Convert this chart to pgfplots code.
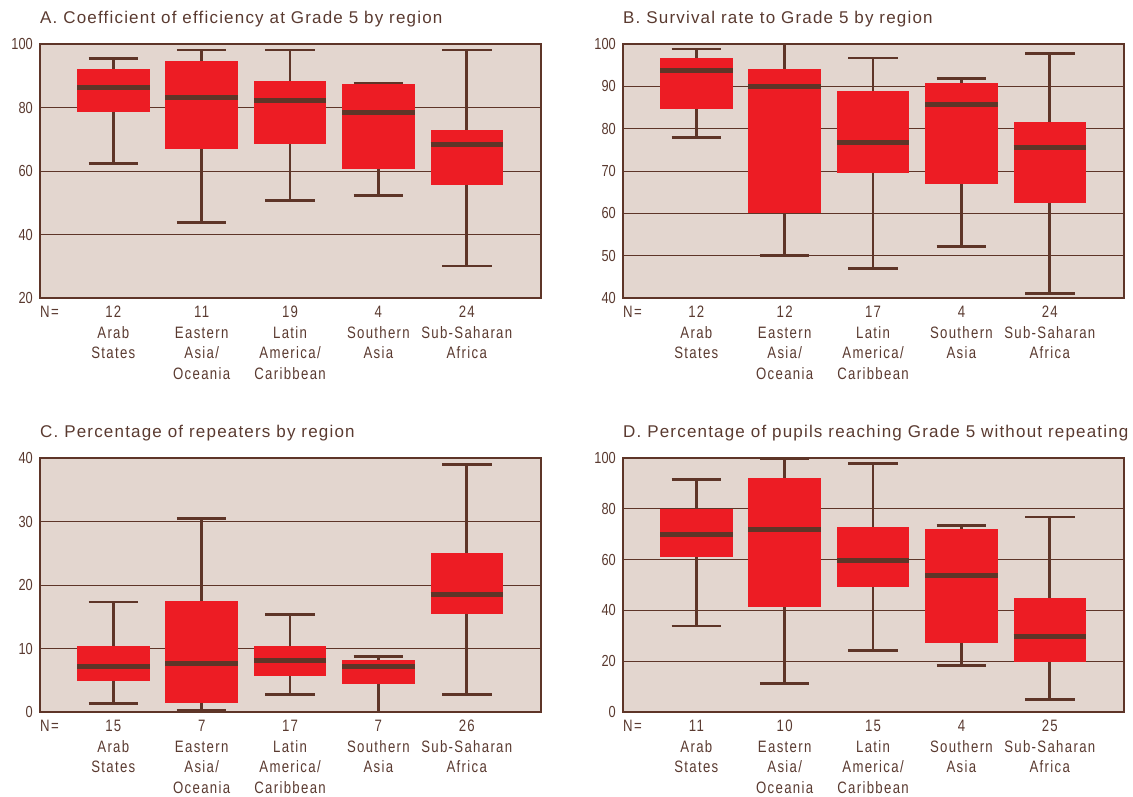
\documentclass[border=0pt]{standalone}
\usepackage{fontspec}
\usepackage{pgfplots}
\pgfplotsset{compat=1.18}
\usepgfplotslibrary{statistics}
\setmainfont{Liberation Sans}
\newfontfamily\titlefont[LetterSpace=7]{Liberation Sans}
\newfontfamily\labfont[FakeStretch=0.8,LetterSpace=8]{Liberation Sans}
\newfontfamily\numfont[FakeStretch=0.8]{Liberation Sans}

\definecolor{bg}{HTML}{E3D6CF}
\definecolor{boxred}{HTML}{ED1C24}
\definecolor{dkbrown}{HTML}{5E3528}
\definecolor{txt}{HTML}{5A3A30}

\pgfplotsset{
  regionbox/.style={
    width=501pt, height=254pt, scale only axis,
    anchor=south west,
    xmin=-0.83, xmax=4.84, xtick={0,1,2,3,4},
    major tick length=0pt,
    axis background/.style={fill=bg},
    axis line style={dkbrown, line width=1.2pt},
    ymajorgrids, major grid style={dkbrown, line width=0.9pt},
    /pgf/number format/assume math mode=true,
    yticklabel style={anchor=east, inner sep=0pt, xshift=-7pt,
      font=\numfont\fontsize{16}{20.5}\selectfont, text=txt},
    xticklabel style={align=center, anchor=north, inner sep=0pt, yshift=-8pt,
      font=\labfont\fontsize{16.5}{20.5}\selectfont, text=txt},
    title style={at={(0,1)}, anchor=base west, inner sep=0pt, yshift=15pt,
      font=\titlefont\fontsize{17}{20}\selectfont, text=txt},
    boxplot/draw direction=y,
    boxplot/box extend=0.82,
    boxplot/whisker extend=0.56,
    boxplot/every box/.style={fill=boxred, draw=none},
    boxplot/every whisker/.style={draw=dkbrown, line width=2.6pt},
    boxplot/every median/.style={draw=dkbrown, line width=5pt},
    after end axis/.code={
      \node[anchor=base west, inner sep=0pt, yshift=-19.5pt,
        font=\labfont\fontsize{16.5}{20.5}\selectfont, text=txt]
        at (rel axis cs:0,0) {N=};
    },
  },
  % one box: position, lower whisker, lower quartile, median, upper quartile, upper whisker
  bx/.style n args={6}{boxplot prepared={draw position=#1, lower whisker=#2,
      lower quartile=#3, median=#4, upper quartile=#5, upper whisker=#6}},
}

\begin{document}
\begin{tikzpicture}
\useasboundingbox (0,0) rectangle (1133pt,-797pt);

% A
\begin{axis}[regionbox, at={(40pt,-298pt)},
  title={A. Coefficient of efficiency at Grade 5 by region},
  ymin=20, ymax=100, ytick={20,40,60,80,100},
  xticklabels={{12\\Arab\\States},{11\\Eastern\\Asia/\\Oceania},{19\\Latin\\America/\\Caribbean},{4\\Southern\\Asia},{24\\Sub-Saharan\\Africa}}]
\addplot[bx={0}{62.3}{78.6}{86.2}{92.0}{95.4}] coordinates {};
\addplot[bx={1}{43.7}{67.0}{83.3}{94.5}{98.1}] coordinates {};
\addplot[bx={2}{50.8}{68.5}{82.3}{88.2}{98.1}] coordinates {};
\addplot[bx={3}{52.3}{60.7}{78.4}{87.5}{87.7}] coordinates {};
\addplot[bx={4}{30.1}{55.5}{68.5}{72.9}{98.1}] coordinates {};
\end{axis}

% B
\begin{axis}[regionbox, at={(623pt,-298pt)},
  title={B. Survival rate to Grade 5 by region},
  ymin=40, ymax=100, ytick={40,50,60,70,80,90,100},
  xticklabels={{12\\Arab\\States},{12\\Eastern\\Asia/\\Oceania},{17\\Latin\\America/\\Caribbean},{4\\Southern\\Asia},{24\\Sub-Saharan\\Africa}}]
\addplot[bx={0}{77.9}{84.7}{93.7}{96.7}{98.8}] coordinates {};
\addplot[bx={1}{50.0}{60.1}{90.0}{94.0}{100}] coordinates {};
\addplot[bx={2}{46.9}{69.6}{76.8}{88.8}{96.7}] coordinates {};
\addplot[bx={3}{52.2}{66.9}{85.7}{90.9}{91.9}] coordinates {};
\addplot[bx={4}{41.0}{62.4}{75.6}{81.5}{97.8}] coordinates {};
\end{axis}

% C
\begin{axis}[regionbox, at={(40pt,-712pt)},
  title={C. Percentage of repeaters by region},
  ymin=0, ymax=40, ytick={0,10,20,30,40},
  xticklabels={{15\\Arab\\States},{7\\Eastern\\Asia/\\Oceania},{17\\Latin\\America/\\Caribbean},{7\\Southern\\Asia},{26\\Sub-Saharan\\Africa}}]
\addplot[bx={0}{1.3}{4.9}{7.2}{10.4}{17.3}] coordinates {};
\addplot[bx={1}{0.26}{1.4}{7.6}{17.5}{30.5}] coordinates {};
\addplot[bx={2}{2.8}{5.6}{8.1}{10.4}{15.4}] coordinates {};
\addplot[bx={3}{0}{4.4}{7.2}{8.2}{8.7}] coordinates {};
\addplot[bx={4}{2.8}{15.4}{18.5}{25.0}{39.0}] coordinates {};
\end{axis}

% D
\begin{axis}[regionbox, at={(623pt,-712pt)},
  title={D. Percentage of pupils reaching Grade 5 without repeating},
  ymin=0, ymax=100, ytick={0,20,40,60,80,100},
  xticklabels={{11\\Arab\\States},{10\\Eastern\\Asia/\\Oceania},{15\\Latin\\America/\\Caribbean},{4\\Southern\\Asia},{25\\Sub-Saharan\\Africa}}]
\addplot[bx={0}{33.9}{61.2}{69.7}{80.0}{91.6}] coordinates {};
\addplot[bx={1}{11.3}{41.2}{71.8}{92.0}{99.6}] coordinates {};
\addplot[bx={2}{24.1}{49.4}{59.6}{72.8}{97.9}] coordinates {};
\addplot[bx={3}{18.4}{27.1}{53.6}{72.0}{73.5}] coordinates {};
\addplot[bx={4}{5.0}{19.6}{29.9}{45.0}{76.7}] coordinates {};
\end{axis}
\end{tikzpicture}
\end{document}
